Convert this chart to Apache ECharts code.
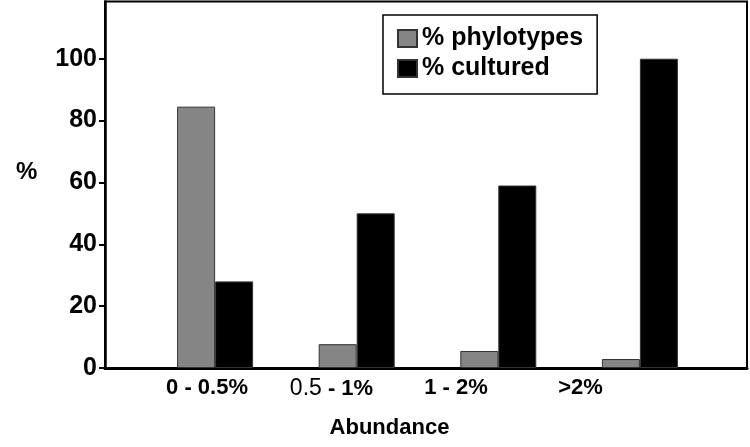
<!DOCTYPE html>
<html>
<head>
<meta charset="utf-8">
<script src="https://cdn.jsdelivr.net/npm/echarts@6/dist/echarts.min.js"></script>
<style>
html,body{margin:0;padding:0;background:#fff;}
#chart{width:750px;height:447px;}
</style>
</head>
<body>
<div id="chart"></div>
<script>
// ---- data ----
const categories = ['0 - 0.5%', '0.5 - 1%', '1 - 2%', '>2%'];
const seriesNames = ['% phylotypes', '% cultured'];
const phylotypes = [84.5, 7.7, 5.5, 2.9];
const cultured = [28, 50, 59, 100];
const yTickValues = [0, 20, 40, 60, 80, 100];
const yAxisTitle = '%';
const xAxisTitle = 'Abundance';

// ---- layout / style ----
const FONT = '"Liberation Sans", Arial, sans-serif';
const Y_MIN = 0, Y_MAX = 118.5, Y_INT = 20;
const TOP = 1.5, BOTTOM = 79;

const chart = echarts.init(document.getElementById('chart'), null, {renderer: 'canvas'});

const yBase = {
  type: 'value', min: Y_MIN, max: Y_MAX, interval: Y_INT,
  splitLine: {show: false}
};

const option = {
  animation: false,
  backgroundColor: '#fff',
  textStyle: {fontFamily: FONT},
  grid: [
    {left: 105, right: 3, top: TOP, bottom: BOTTOM, show: true, borderColor: '#000', borderWidth: 2, containLabel: false},
    {left: 144.3, right: 39.3, top: TOP, bottom: BOTTOM, containLabel: false},
    {left: 144.75, right: 107.25, top: TOP, bottom: BOTTOM, containLabel: false}
  ],
  legend: {
    orient: 'vertical',
    left: 383, top: 15,
    padding: [11, 14, 13, 14],
    itemWidth: 19, itemHeight: 17, itemGap: 5,
    borderColor: '#000', borderWidth: 1.5, borderRadius: 0,
    backgroundColor: '#fff',
    icon: 'rect',
    textStyle: {fontFamily: FONT, fontSize: 25, fontWeight: 'bold', color: '#000', lineHeight: 24},
    data: seriesNames
  },
  xAxis: [
    {
      gridIndex: 0, type: 'category', data: categories,
      axisLine: {show: true, lineStyle: {color: '#000', width: 3}},
      axisTick: {show: false}, axisLabel: {show: false}
    },
    {
      gridIndex: 1, type: 'category', data: categories,
      axisLine: {show: false}, axisTick: {show: false}, axisLabel: {show: false}
    },
    {
      gridIndex: 2, type: 'category', data: categories,
      axisLine: {show: false}, axisTick: {show: false},
      axisLabel: {
        show: true, interval: 0, hideOverlap: false, margin: 9, color: '#000',
        fontFamily: FONT, fontSize: 22, fontWeight: 'bold',
        formatter: function (v) {
          if (v === '0.5 - 1%') {
            return '{r|0.5}{b| - 1%}';
          }
          return '{b|' + v + '}';
        },
        rich: {
          r: {fontFamily: FONT, fontSize: 23, fontWeight: 'normal', color: '#000'},
          b: {fontFamily: FONT, fontSize: 22, fontWeight: 'bold', color: '#000'}
        }
      }
    }
  ],
  yAxis: [
    Object.assign({}, yBase, {
      gridIndex: 0,
      axisLine: {show: true, lineStyle: {color: '#000', width: 2.5}},
      axisTick: {show: true, inside: false, length: 6, customValues: yTickValues, lineStyle: {color: '#000', width: 2}},
      axisLabel: {
        show: true, margin: 8, color: '#000', customValues: yTickValues,
        fontFamily: FONT, fontSize: 25, fontWeight: 'bold',
        formatter: function (v) { return yTickValues.indexOf(v) >= 0 ? String(v) : ''; }
      }
    }),
    Object.assign({}, yBase, {gridIndex: 1, show: false}),
    Object.assign({}, yBase, {gridIndex: 2, show: false})
  ],
  series: [
    {
      name: seriesNames[0], type: 'bar', xAxisIndex: 1, yAxisIndex: 1,
      data: phylotypes, barWidth: 38, barGap: '0%',
      itemStyle: {color: '#858585', borderColor: '#333', borderWidth: 1}
    },
    {
      name: seriesNames[1], type: 'bar', xAxisIndex: 1, yAxisIndex: 1,
      data: cultured, barWidth: 38, barGap: '0%',
      itemStyle: {color: '#000', borderColor: '#333', borderWidth: 1}
    }
  ],
  graphic: [
    {
      type: 'text', left: 16, top: 160,
      style: {text: yAxisTitle, fontFamily: FONT, fontSize: 24, fontWeight: 'bold', fill: '#000'}
    },
    {
      type: 'text', x: 389.5, y: 428,
      style: {text: xAxisTitle, fontFamily: FONT, fontSize: 22, fontWeight: 'bold', fill: '#000',
              align: 'center', verticalAlign: 'middle'}
    }
  ]
};

chart.setOption(option);
</script>
</body>
</html>
